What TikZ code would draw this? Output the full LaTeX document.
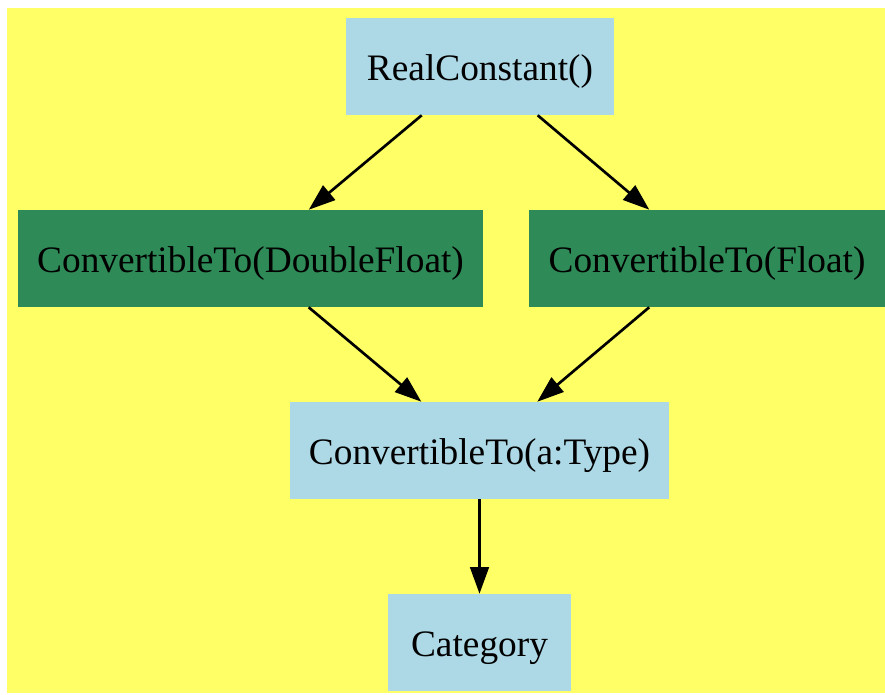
\documentclass[tikz,border=0pt]{standalone}
\usepackage{fontspec}
\setmainfont{Liberation Serif}
\usetikzlibrary{arrows.meta}
\definecolor{Canvas}{HTML}{FFFF66}
\definecolor{LightBlue}{HTML}{ADD8E6}
\definecolor{SeaGreen}{HTML}{2E8B57}

\begin{document}
\begin{tikzpicture}[x=0.75pt,y=-0.75pt,>={Triangle[length=20pt,width=14pt]},
  every node/.style={font=\fontsize{28}{32}\selectfont,inner sep=0pt,
    text height=22pt,text depth=1pt,minimum height=72.75pt},
  catbox/.style={fill=LightBlue},
  dombox/.style={fill=SeaGreen},
  link/.style={->,line width=2pt}]
  \useasboundingbox (0,0) rectangle (885,694);
  \fill[Canvas] (7,8) rectangle (885,693);
  % categories and domains
  \node[catbox,minimum width=201pt] (real) at (480,66.5) {RealConstant()};
  \node[dombox,minimum width=348.75pt] (dfloat) at (250.5,258.5) {ConvertibleTo(DoubleFloat)};
  \node[dombox,minimum width=267pt] (float) at (707,258.5) {ConvertibleTo(Float)};
  \node[catbox,minimum width=284.25pt] (conv) at (479.5,450.5) {ConvertibleTo(a:Type)};
  \node[catbox,minimum width=137.25pt] (cat) at (479.5,642.5) {Category};
  % edges
  \draw[link] (real) -- (dfloat);
  \draw[link] (real) -- (float);
  \draw[link] (dfloat) -- (conv);
  \draw[link] (float) -- (conv);
  \draw[link] (conv) -- (cat);
\end{tikzpicture}
\end{document}
